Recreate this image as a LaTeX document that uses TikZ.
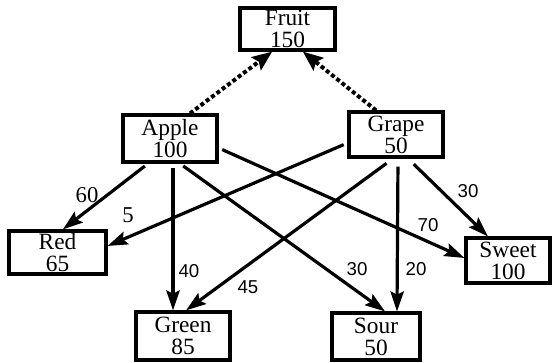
\documentclass[tikz,border=0pt]{standalone}
\usepackage{fontspec}
\setmainfont{Liberation Serif}
\setsansfont{Liberation Sans}
\usetikzlibrary{arrows.meta}
\newcommand\boxfont{\fontsize{17.5}{16.5}\selectfont\lineskiplimit=-20pt\relax}
\tikzset{
  box/.style={draw, line width=2.4pt, inner sep=0pt, align=center, font=\boxfont},
  flow/.style={line width=2.4pt, -{Stealth[length=15pt,width=10pt,inset=2.5pt]}, shorten <=3pt},
  link/.style={line width=3pt, dash pattern=on 3pt off 2pt,
    -{Stealth[length=15pt,width=12pt,inset=2.5pt]}},
  wt/.style={font=\sffamily\fontsize{14}{16}\selectfont, inner sep=0pt},
  wtr/.style={font=\fontsize{17}{18}\selectfont, inner sep=0pt}
}

\begin{document}
\begin{tikzpicture}[x=0.75pt,y=-0.75pt]
\useasboundingbox (0,0) rectangle (557,362);

% Boxes
\node[box, minimum width=71.25pt, minimum height=31.5pt] (fruit) at (287.5,29) {Fruit\\150};
\node[box, minimum width=70.5pt, minimum height=35.25pt] (apple) at (170,138.5) {Apple\\100};
\node[box, minimum width=70.5pt, minimum height=33.75pt] (grape) at (396,134.5) {Grape\\50};
\node[box, minimum width=72.75pt, minimum height=32.25pt] (red) at (57.5,252.5) {Red\\65};
\node[box, minimum width=63pt, minimum height=33.75pt] (sweet) at (508,260.5) {Sweet\\100};
\node[box, minimum width=70.5pt, minimum height=36pt] (green) at (183,336) {Green\\85};
\node[box, minimum width=66pt, minimum height=35.25pt] (sour) at (376,336.5) {Sour\\50};

% Up to the parent
\draw[link] ([xshift=15pt]apple.north) -- ([xshift=-11.5pt]fruit.south);
\draw[link] ([xshift=-15pt]grape.north) -- ([xshift=11.5pt]fruit.south);

% Apple
\draw[flow] ([xshift=-16.5pt]apple.south) -- ([xshift=4pt]red.north);
\draw[flow] ([xshift=2.25pt]apple.south) -- ([xshift=-7.5pt]green.north);
\draw[flow] ([xshift=7.5pt]apple.south) -- ([xshift=6.75pt]sour.north);
\draw[flow] ([yshift=-7.1pt]apple.east) -- ([yshift=1.9pt]sweet.west);

% Grape
\draw[flow] ([yshift=-6.4pt]grape.west) -- ([yshift=4.9pt]red.east);
\draw[flow, shorten <=6pt] ([xshift=-2.25pt]grape.south) -- ([xshift=2.25pt]green.north);
\draw[flow, shorten <=6pt] ([xshift=1.5pt]grape.south) -- ([xshift=15.75pt]sour.north);
\draw[flow, shorten <=6pt] ([xshift=9pt]grape.south) -- ([xshift=-15pt]sweet.north);

% Weights
\node[wtr] (w60) at (87,195) {60};
\node[wtr] (w5) at (128,215) {5};
\node[wt] (w40) at (189,271) {40};
\node[wt] (w45) at (248,287) {45};
\node[wt] (w30a) at (357,269) {30};
\node[wt] (w20) at (416,269) {20};
\node[wt] (w70) at (428,225) {70};
\node[wt] (w30b) at (468,191) {30};
\end{tikzpicture}
\end{document}
